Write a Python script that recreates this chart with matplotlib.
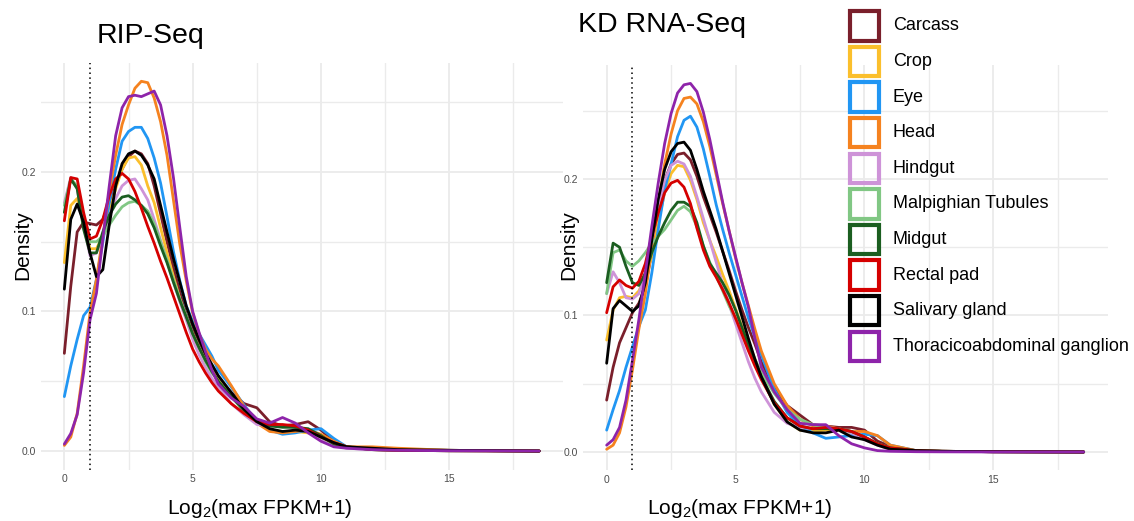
import matplotlib
matplotlib.use('Agg')
import matplotlib.pyplot as plt
from matplotlib.patches import Rectangle
from matplotlib.ticker import MultipleLocator

plt.rcParams['font.family'] = ['Liberation Sans', 'DejaVu Sans']
plt.rcParams['mathtext.default'] = 'regular'

x_grid = [0, 0.25, 0.5, 0.75, 1, 1.25, 1.5, 1.75, 2, 2.25, 2.5, 2.75, 3, 3.25, 3.5, 3.75, 4,
          4.25, 4.5, 4.75, 5, 5.25, 5.5, 5.75, 6, 6.5, 7, 7.5, 8, 8.5, 9, 9.5, 10, 10.5, 11,
          12, 13, 15, 18.5]

tissues = ['Carcass', 'Crop', 'Eye', 'Head', 'Hindgut', 'Malpighian Tubules', 'Midgut',
           'Rectal pad', 'Salivary gland', 'Thoracicoabdominal ganglion']
colors = ['#7a1f2b', '#fbbf2c', '#2196f3', '#f5821f', '#ce93d8', '#81c784', '#1b5e20',
          '#d50000', '#000000', '#8e24aa']

#RIP-Seq panel
rip_carcass = [0.07, 0.118, 0.157, 0.164, 0.163, 0.162, 0.166, 0.178, 0.19, 0.202, 0.211, 0.215, 0.213, 0.206, 0.19, 0.17, 0.15, 0.131, 0.114, 0.098, 0.087, 0.078, 0.068, 0.06, 0.052, 0.042, 0.034, 0.031, 0.021, 0.018, 0.019, 0.021, 0.015, 0.007, 0.003, 0.002, 0.001, 0.0005, 0]
rip_crop = [0.135, 0.176, 0.181, 0.164, 0.145, 0.145, 0.154, 0.171, 0.188, 0.202, 0.21, 0.211, 0.205, 0.19, 0.178, 0.16, 0.142, 0.125, 0.109, 0.095, 0.084, 0.074, 0.065, 0.058, 0.051, 0.039, 0.03, 0.021, 0.015, 0.014, 0.014, 0.013, 0.011, 0.006, 0.003, 0.002, 0.001, 0.0005, 0]
rip_eye = [0.039, 0.061, 0.08, 0.097, 0.103, 0.123, 0.15, 0.178, 0.202, 0.222, 0.229, 0.232, 0.232, 0.224, 0.21, 0.192, 0.168, 0.143, 0.122, 0.104, 0.093, 0.084, 0.076, 0.068, 0.058, 0.046, 0.033, 0.021, 0.015, 0.012, 0.013, 0.015, 0.016, 0.009, 0.003, 0.002, 0.001, 0.0005, 0]
rip_head = [0.004, 0.01, 0.027, 0.061, 0.099, 0.123, 0.154, 0.186, 0.212, 0.234, 0.248, 0.26, 0.265, 0.264, 0.253, 0.236, 0.212, 0.18, 0.148, 0.122, 0.099, 0.084, 0.073, 0.066, 0.061, 0.047, 0.032, 0.02, 0.014, 0.013, 0.014, 0.015, 0.012, 0.007, 0.003, 0.003, 0.002, 0.0005, 0]
rip_hindgut = [0.178, 0.196, 0.188, 0.162, 0.14, 0.142, 0.154, 0.169, 0.181, 0.19, 0.194, 0.195, 0.188, 0.18, 0.166, 0.151, 0.136, 0.121, 0.107, 0.094, 0.08, 0.069, 0.06, 0.052, 0.046, 0.034, 0.026, 0.019, 0.018, 0.018, 0.017, 0.015, 0.009, 0.004, 0.002, 0.001, 0.0005, 0.0002, 0]
rip_malpighian = [0.176, 0.195, 0.19, 0.166, 0.15, 0.15, 0.154, 0.162, 0.169, 0.175, 0.178, 0.179, 0.176, 0.172, 0.163, 0.15, 0.137, 0.123, 0.109, 0.097, 0.084, 0.074, 0.064, 0.056, 0.05, 0.039, 0.03, 0.022, 0.019, 0.018, 0.017, 0.014, 0.01, 0.005, 0.003, 0.001, 0.0005, 0.0002, 0]
rip_midgut = [0.171, 0.195, 0.188, 0.159, 0.142, 0.142, 0.157, 0.169, 0.177, 0.182, 0.183, 0.18, 0.176, 0.17, 0.16, 0.147, 0.135, 0.121, 0.108, 0.096, 0.084, 0.074, 0.065, 0.057, 0.05, 0.039, 0.029, 0.022, 0.018, 0.017, 0.017, 0.016, 0.011, 0.005, 0.003, 0.001, 0.0005, 0.0002, 0]
rip_rectal = [0.165, 0.196, 0.195, 0.171, 0.152, 0.154, 0.166, 0.183, 0.195, 0.199, 0.195, 0.186, 0.174, 0.161, 0.149, 0.136, 0.124, 0.111, 0.098, 0.085, 0.073, 0.064, 0.056, 0.049, 0.043, 0.034, 0.027, 0.021, 0.019, 0.019, 0.018, 0.015, 0.01, 0.006, 0.003, 0.001, 0.0005, 0.0002, 0]
rip_salivary = [0.116, 0.166, 0.177, 0.164, 0.142, 0.125, 0.13, 0.162, 0.19, 0.206, 0.213, 0.215, 0.212, 0.205, 0.195, 0.176, 0.157, 0.138, 0.121, 0.104, 0.091, 0.08, 0.07, 0.062, 0.054, 0.042, 0.03, 0.021, 0.016, 0.014, 0.015, 0.014, 0.01, 0.006, 0.003, 0.002, 0.001, 0.0005, 0]
rip_thoracic = [0.005, 0.0125, 0.026, 0.056, 0.094, 0.113, 0.152, 0.19, 0.226, 0.246, 0.254, 0.255, 0.254, 0.256, 0.258, 0.248, 0.226, 0.196, 0.16, 0.125, 0.1, 0.085, 0.071, 0.058, 0.048, 0.038, 0.032, 0.023, 0.02, 0.024, 0.02, 0.013, 0.007, 0.003, 0.002, 0.001, 0.0005, 0.0002, 0]

#KD RNA-Seq panel
kd_carcass = [0.038, 0.062, 0.08, 0.091, 0.102, 0.109, 0.121, 0.146, 0.175, 0.199, 0.211, 0.218, 0.219, 0.214, 0.202, 0.187, 0.174, 0.161, 0.147, 0.133, 0.118, 0.104, 0.091, 0.079, 0.066, 0.047, 0.034, 0.027, 0.02, 0.019, 0.018, 0.018, 0.016, 0.008, 0.004, 0.001, 0.0005, 0.0002, 0]
kd_crop = [0.082, 0.104, 0.113, 0.114, 0.113, 0.118, 0.128, 0.143, 0.168, 0.19, 0.204, 0.21, 0.209, 0.199, 0.185, 0.168, 0.155, 0.143, 0.13, 0.118, 0.105, 0.092, 0.08, 0.068, 0.056, 0.035, 0.022, 0.016, 0.015, 0.016, 0.016, 0.014, 0.01, 0.006, 0.003, 0.001, 0.0005, 0.0002, 0]
kd_eye = [0.016, 0.031, 0.045, 0.062, 0.077, 0.092, 0.104, 0.131, 0.163, 0.192, 0.211, 0.231, 0.243, 0.246, 0.238, 0.222, 0.202, 0.181, 0.163, 0.146, 0.13, 0.114, 0.098, 0.084, 0.071, 0.046, 0.029, 0.019, 0.014, 0.01, 0.011, 0.012, 0.013, 0.012, 0.005, 0.001, 0.0005, 0.0002, 0]
kd_head = [0.002, 0.005, 0.014, 0.033, 0.06, 0.09, 0.116, 0.15, 0.182, 0.211, 0.233, 0.25, 0.259, 0.26, 0.255, 0.242, 0.224, 0.203, 0.182, 0.162, 0.142, 0.124, 0.107, 0.09, 0.074, 0.05, 0.034, 0.024, 0.019, 0.019, 0.017, 0.015, 0.015, 0.012, 0.005, 0.001, 0.0005, 0.0002, 0]
kd_hindgut = [0.116, 0.132, 0.124, 0.113, 0.112, 0.116, 0.131, 0.155, 0.18, 0.199, 0.21, 0.213, 0.211, 0.202, 0.187, 0.171, 0.155, 0.139, 0.123, 0.108, 0.094, 0.08, 0.066, 0.054, 0.044, 0.029, 0.021, 0.018, 0.017, 0.018, 0.017, 0.014, 0.009, 0.005, 0.002, 0.001, 0.0005, 0.0002, 0]
kd_malpighian = [0.116, 0.146, 0.148, 0.14, 0.136, 0.14, 0.146, 0.153, 0.158, 0.163, 0.17, 0.177, 0.18, 0.176, 0.165, 0.151, 0.139, 0.129, 0.118, 0.107, 0.098, 0.088, 0.078, 0.068, 0.058, 0.043, 0.031, 0.024, 0.02, 0.018, 0.017, 0.015, 0.011, 0.006, 0.003, 0.001, 0.0005, 0.0002, 0]
kd_midgut = [0.124, 0.153, 0.15, 0.136, 0.124, 0.122, 0.131, 0.146, 0.158, 0.168, 0.177, 0.183, 0.183, 0.18, 0.168, 0.151, 0.138, 0.131, 0.124, 0.115, 0.104, 0.091, 0.078, 0.066, 0.055, 0.037, 0.025, 0.019, 0.017, 0.017, 0.017, 0.015, 0.011, 0.006, 0.003, 0.001, 0.0005, 0.0002, 0]
kd_rectal = [0.102, 0.121, 0.126, 0.122, 0.12, 0.125, 0.138, 0.158, 0.175, 0.19, 0.197, 0.199, 0.194, 0.182, 0.164, 0.148, 0.136, 0.128, 0.119, 0.109, 0.098, 0.086, 0.074, 0.063, 0.053, 0.036, 0.025, 0.019, 0.017, 0.018, 0.017, 0.015, 0.011, 0.006, 0.003, 0.001, 0.0005, 0.0002, 0]
kd_salivary = [0.065, 0.105, 0.111, 0.107, 0.103, 0.107, 0.124, 0.155, 0.185, 0.207, 0.22, 0.226, 0.227, 0.221, 0.207, 0.191, 0.177, 0.163, 0.147, 0.131, 0.115, 0.099, 0.083, 0.068, 0.055, 0.035, 0.022, 0.016, 0.014, 0.014, 0.016, 0.011, 0.009, 0.005, 0.002, 0.001, 0.0005, 0.0002, 0]
kd_thoracic = [0.005, 0.009, 0.018, 0.038, 0.067, 0.097, 0.131, 0.165, 0.197, 0.226, 0.248, 0.263, 0.269, 0.27, 0.264, 0.249, 0.229, 0.206, 0.183, 0.162, 0.143, 0.124, 0.106, 0.083, 0.062, 0.044, 0.031, 0.021, 0.02, 0.02, 0.012, 0.006, 0.003, 0.001, 0.0005, 0.0002, 0.0001, 0, 0]

rip_series = [rip_carcass, rip_crop, rip_eye, rip_head, rip_hindgut, rip_malpighian,
              rip_midgut, rip_rectal, rip_salivary, rip_thoracic]
kd_series = [kd_carcass, kd_crop, kd_eye, kd_head, kd_hindgut, kd_malpighian,
             kd_midgut, kd_rectal, kd_salivary, kd_thoracic]

W, H = 1134, 521
fig = plt.figure(figsize=(W/100, H/100), dpi=100)

def px_axes(left, top, right, bottom):
    return fig.add_axes([left/W, 1 - bottom/H, (right - left)/W, (bottom - top)/H])

ax1 = px_axes(40.6, 62.8, 562.9, 469.5)
ax2 = px_axes(582.8, 65.0, 1107.5, 470.4)

for ax, series in [(ax1, rip_series), (ax2, kd_series)]:
    for vals, col in zip(series, colors):
        ax.plot(x_grid, vals, color=col, lw=2.0, solid_joinstyle='round', solid_capstyle='round', zorder=3)
    ax.axvline(1, color='black', ls=(0, (1, 2.2)), lw=1.1, zorder=4)
    ymax = max(max(v) for v in series)
    ax.set_xlim(-0.925, 19.425)
    ax.set_ylim(-0.05*ymax, 1.05*ymax)
    ax.xaxis.set_major_locator(MultipleLocator(5))
    ax.xaxis.set_minor_locator(MultipleLocator(2.5))
    ax.yaxis.set_major_locator(MultipleLocator(0.1))
    ax.yaxis.set_minor_locator(MultipleLocator(0.05))
    ax.grid(which='major', color='#ebebeb', lw=1.3, zorder=0)
    ax.grid(which='minor', color='#ebebeb', lw=1.0, zorder=0)
    ax.set_axisbelow(True)
    for s in ax.spines.values():
        s.set_visible(False)
    ax.tick_params(which='both', length=0, labelsize=7.5, labelcolor='#4d4d4d', pad=3.5)
    ax.set_xticks([0, 5, 10, 15])
    ax.set_yticks([0.0, 0.1, 0.2])
    ax.set_yticklabels(['0.0', '0.1', '0.2'])

#titles and axis labels
fig.text(97/W, 1 - 43/H, 'RIP-Seq', fontsize=20.5, ha='left', va='baseline')
fig.text(578/W, 1 - 32/H, 'KD RNA-Seq', fontsize=20.5, ha='left', va='baseline')
fig.text(22.5/W, 1 - 245/H, 'Density', fontsize=15, rotation=90, ha='center', va='center')
fig.text(569/W, 1 - 245/H, 'Density', fontsize=15, rotation=90, ha='center', va='center')
fig.text(260/W, 1 - 514/H, r'Log$_2$(max FPKM+1)', fontsize=15, ha='center', va='baseline')
fig.text(740/W, 1 - 514/H, r'Log$_2$(max FPKM+1)', fontsize=15, ha='center', va='baseline')

#legend drawn by hand: open boxes with coloured borders
step = 35.6
for i, (name, col) in enumerate(zip(tissues, colors)):
    top = 9.3 + i*step
    fig.add_artist(Rectangle((850/W, 1 - (top + 31.3)/H), 29/W, 29.5/H, transform=fig.transFigure,
                             fill=False, ec=col, lw=3.0, zorder=5))
    fig.text(893/W, 1 - (top + 16.5)/H, name, fontsize=13, ha='left', va='center')

fig.savefig('out.png', dpi=100)
